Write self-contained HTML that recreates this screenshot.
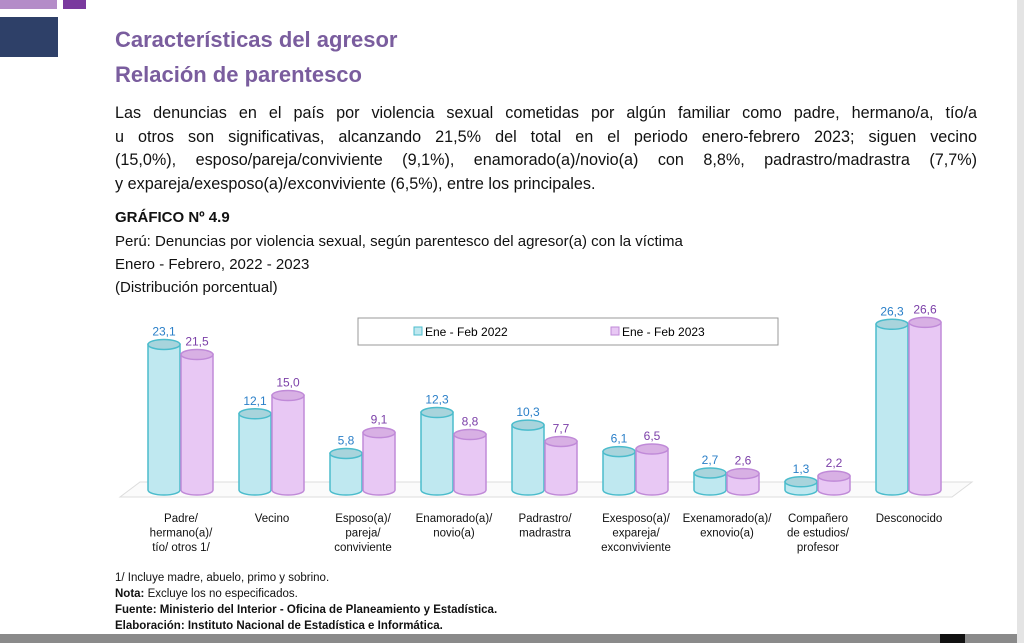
<!DOCTYPE html>
<html><head><meta charset="utf-8"><style>
body{margin:0;width:1024px;height:643px;overflow:hidden;background:#fff;position:relative;font-family:"Liberation Sans",sans-serif}
.a{position:absolute;white-space:nowrap}
.t{color:#7a5d9e;font-weight:bold;font-size:22px;left:115px}
.pl{left:115px;font-size:16.2px;color:#111;width:862px;text-align:justify;text-align-last:justify}
.s{left:115px;font-size:15px;color:#111}
.f{left:115px;font-size:11.5px;color:#111;font-family:"Liberation Sans Narrow","Liberation Sans",sans-serif}
</style></head><body>
<div class="a" style="left:0;top:0;width:57px;height:9px;background:#b48cc8"></div>
<div class="a" style="left:63px;top:0;width:23px;height:9px;background:#7a3a9e"></div>
<div class="a" style="left:0;top:17px;width:58px;height:40px;background:#2e4068"></div>
<div class="a" style="left:1017px;top:0;width:7px;height:643px;background:#e4e4e4"></div>
<div class="a t" style="top:27px">Características del agresor</div>
<div class="a t" style="top:62px">Relación de parentesco</div>
<div class="a pl" style="top:104px">Las denuncias en el país por violencia sexual cometidas por algún familiar como padre, hermano/a, tío/a</div>
<div class="a pl" style="top:128px">u otros son significativas, alcanzando 21,5% del total en el periodo enero-febrero 2023; siguen vecino</div>
<div class="a pl" style="top:151px">(15,0%), esposo/pareja/conviviente (9,1%), enamorado(a)/novio(a) con 8,8%, padrastro/madrastra (7,7%)</div>
<div class="a pl" style="top:175px;text-align-last:left;width:auto">y expareja/exesposo(a)/exconviviente (6,5%), entre los principales.</div>
<div class="a s" style="top:209px;font-weight:bold">GRÁFICO Nº 4.9</div>
<div class="a s" style="top:233px">Perú: Denuncias por violencia sexual, según parentesco del agresor(a) con la víctima</div>
<div class="a s" style="top:256px">Enero - Febrero, 2022 - 2023</div>
<div class="a s" style="top:279px">(Distribución porcentual)</div>
<svg class="a" style="left:0;top:0" width="1024" height="643" id="g">
<polygon points="140,482 972,482 952,497 120,497" fill="#fbfbfb" stroke="#ddd"/>
<rect x="358" y="318" width="420" height="27" fill="#fff" stroke="#999"/>
<rect x="414" y="327" width="8" height="8" fill="#bfe8f0" stroke="#4bbccc"/>
<text x="425" y="336" font-size="12" font-family="Liberation Sans">Ene - Feb 2022</text>
<rect x="611" y="327" width="8" height="8" fill="#e8c8f4" stroke="#c08ad8"/>
<text x="622" y="336" font-size="12" font-family="Liberation Sans">Ene - Feb 2023</text>
</svg>
<div class="a f" style="top:572px">1/ Incluye madre, abuelo, primo y sobrino.</div>
<div class="a f" style="top:588px"><b>Nota:</b> Excluye los no especificados.</div>
<div class="a f" style="top:604px;font-weight:bold">Fuente: Ministerio del Interior - Oficina de Planeamiento y Estadística.</div>
<div class="a f" style="top:620px;font-weight:bold">Elaboración: Instituto Nacional de Estadística e Informática.</div>
<div class="a" style="left:0;top:634px;width:1017px;height:9px;background:#8a8a8a"></div>
<div class="a" style="left:940px;top:634px;width:25px;height:9px;background:#111"></div>
<script>
(function(){
var d=[[23.1,21.5],[12.1,15.0],[5.8,9.1],[12.3,8.8],[10.3,7.7],[6.1,6.5],[2.7,2.6],[1.3,2.2],[26.3,26.6]];
var L=[["Padre/","hermano(a)/","tío/ otros 1/"],["Vecino"],["Esposo(a)/","pareja/","conviviente"],["Enamorado(a)/","novio(a)"],["Padrastro/","madrastra"],["Exesposo(a)/","expareja/","exconviviente"],["Exenamorado(a)/","exnovio(a)"],["Compañero","de estudios/","profesor"],["Desconocido"]];
var s="",B=490,k=6.3,w=32;
for(var i=0;i<9;i++){var x0=148+i*91;
for(var j=0;j<2;j++){var x=x0+j*33,v=d[i][j],yt=B-v*k,cx=x+w/2;
var f=j?"#e8c8f4":"#bfe8f0",st=j?"#c08ad8":"#4bbccc",tc=j?"#7b3fa8":"#2a7fc8";
s+='<path d="M'+x+','+yt+' L'+x+','+B+' A16,5 0 0 0 '+(x+w)+','+B+' L'+(x+w)+','+yt+'Z" fill="'+f+'" stroke="'+st+'" stroke-width="1.5"/>';
s+='<ellipse cx="'+cx+'" cy="'+yt+'" rx="16" ry="5" fill="'+(j?"#d8b0e4":"#a8d4dc")+'" stroke="'+st+'" stroke-width="1.5"/>';
s+='<text x="'+cx+'" y="'+(yt-9)+'" text-anchor="middle" font-size="12" fill="'+tc+'" font-family="Liberation Sans">'+v.toFixed(1).replace(".",",")+'</text>';}
for(var m=0;m<L[i].length;m++)s+='<text x="'+(x0+33)+'" y="'+(522+m*14.5)+'" text-anchor="middle" font-size="11.5" fill="#111" font-family="Liberation Sans">'+L[i][m]+'</text>';}
document.getElementById("g").insertAdjacentHTML("beforeend",s);
})();
</script>
</body></html>
